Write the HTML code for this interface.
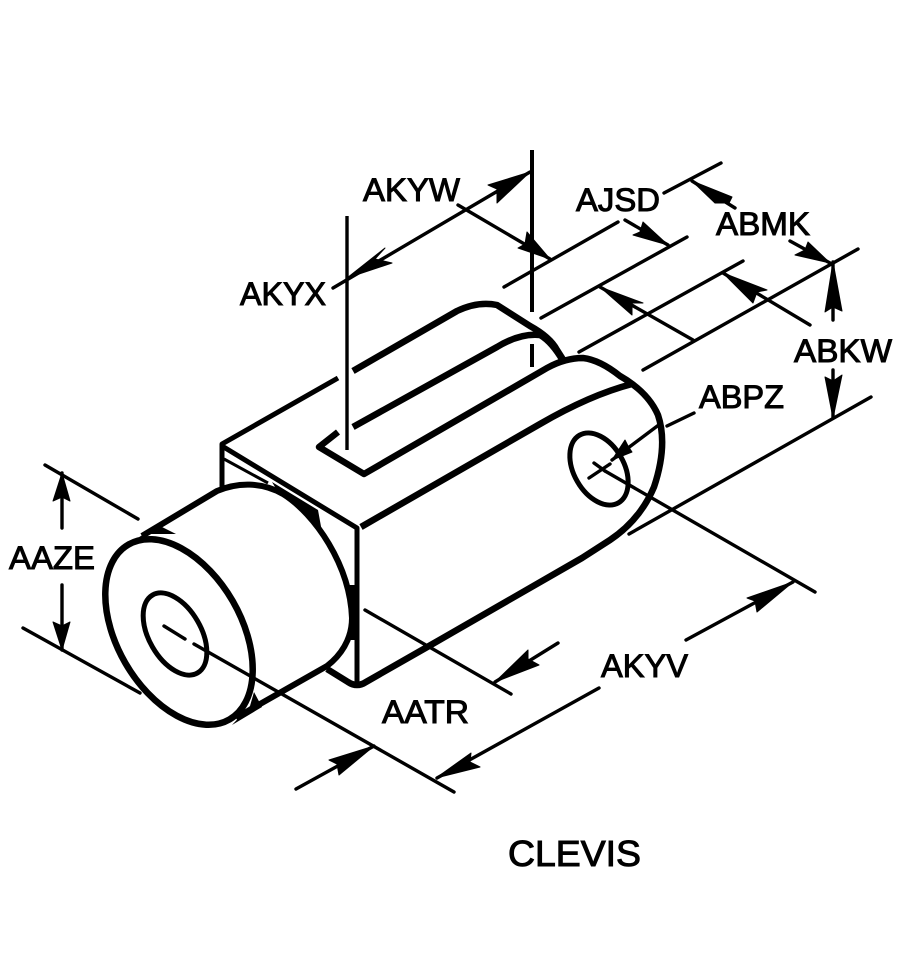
<!DOCTYPE html>
<html>
<head>
<meta charset="utf-8">
<title>Clevis</title>
<style>
html,body{margin:0;padding:0;background:#fff}
svg{display:block}
text{font-family:"Liberation Sans",sans-serif;font-size:32px;fill:#000;stroke:#000;stroke-width:1px}
</style>
</head>
<body>
<svg width="898" height="953" viewBox="0 0 898 953" xmlns="http://www.w3.org/2000/svg">
<rect width="898" height="953" fill="#fff"/>

<!-- Body outlines -->
<g fill="none" stroke="#000" stroke-linejoin="round" stroke-linecap="butt">
  <path stroke-width="5" d="M338 378 L222 444 L222 488"/>
  <path stroke-width="5" d="M222 446 L357 528 L357 686"/>
  <path stroke-width="3" d="M224 459 L268 483"/>
  <path stroke-width="6.5" d="M353 371 L457 311 Q478 301 497 305 L530 326 Q550 337 557 350 L564 361"/>
  <path stroke-width="6.5" d="M338 432 L319 447 L364 474 L547 368 Q565 358 583 358 Q600 360 620 376 Q648 392 658 415 Q668 445 654 487 Q640 520 610 540 L582 558 L429 646 L366 682 Q357 688 348 682 L327 669"/>
  <path stroke-width="6.5" d="M353 427 L497 347 Q520 333 540 335 Q552 342 563 361"/>
  <path stroke-width="6.5" d="M361 527 L540 424 Q590 395 632 384"/>
  <!-- Cylinder -->
  <ellipse cx="179" cy="632" rx="101" ry="62" transform="rotate(60 179 632)" stroke-width="6.5" fill="#fff"/>
  <path stroke-width="6" d="M142 536 L217 491 C238 482 262 482 283 494 C315 514 350 565 352 618 C352 640 340 656 327 666 L253 708 L236 718"/>
  <ellipse cx="175" cy="634" rx="45" ry="26" transform="rotate(60 175 634)" stroke-width="5"/>
  <ellipse cx="599" cy="469" rx="39" ry="25" transform="rotate(60 599 469)" stroke-width="5"/>
</g>
<polygon points="133,541 158,525 176,534 150,534" fill="#000"/>
<polygon points="232,725 262,707 254,692 250,706" fill="#000"/>
<polygon points="272,482 318,510 322,532 300,505 278,492" fill="#000"/>
<polygon points="349,585 357,585 357,640 350,640" fill="#000"/>

<!-- Thin dimension lines -->
<g fill="none" stroke="#000" stroke-width="3.4" stroke-linecap="round">
  <path d="M347 216 V450" stroke-linecap="butt"/>
  <path d="M532 150 V312 M532 344 V367" stroke-linecap="butt" stroke-width="4"/>
  <path d="M333 288 L530 172"/>
  <path d="M458 205 L550 259"/>
  <path d="M504 287 L618 222"/>
  <path d="M541 318 L687 237"/>
  <path d="M579 352 L743 261"/>
  <path d="M643 370 L858 249"/>
  <path d="M600 287 L693 340"/>
  <path d="M723 273 L810 325"/>
  <path d="M625 220 L668 245"/>
  <path d="M664 193 L721 163"/>
  <path d="M692 181 L735 208"/>
  <path d="M790 241 L830 263"/>
  <path d="M833 262 V320"/>
  <path d="M833 370 V418"/>
  <path d="M629 534 L871 397"/>
  <path d="M667 426 L694 413"/>
  <path d="M612 460 L660 424"/>
  <path d="M589 478 L610 464"/>
  <path d="M594 463 L605 471"/>
  <path d="M605 471 L815 592"/>
  <path d="M437 778 L599 688"/>
  <path d="M686 640 L793 582"/>
  <path d="M365 610 L511 694"/>
  <path d="M495 682 L558 643"/>
  <path d="M164 626 L185 639"/>
  <path d="M194 644 L454 792"/>
  <path d="M374 746 L296 789"/>
  <path d="M45 465 L138 519"/>
  <path d="M23 628 L140 693"/>
  <path d="M62 473 V528"/>
  <path d="M62 585 V650"/>
</g>

<!-- Arrowheads -->
<g fill="#000" stroke="#000" stroke-width="1" stroke-linejoin="round">
  <polygon points="347,278 385,248 375,259 392,263"/>
  <polygon points="530,172 488,185 497,189 497,203"/>
  <polygon points="550,259 518,248 525,244 527,232"/>
  <polygon points="668,245 633,235 640,232 643,222"/>
  <polygon points="600,287 643,303 632,303 632,315"/>
  <polygon points="723,273 767,290 757,292 753,303"/>
  <polygon points="692,181 732,197 729,203 715,203"/>
  <polygon points="830,263 808,242 805,250 795,255"/>
  <polygon points="833,262 825,312 833,307 842,311"/>
  <polygon points="833,418 825,377 833,381 842,375"/>
  <polygon points="612,460 625,440 628,446 632,452"/>
  <polygon points="436,778 471,753 470,762 480,767"/>
  <polygon points="793,582 747,598 755,601 757,612"/>
  <polygon points="495,682 528,650 528,659 539,665"/>
  <polygon points="374,746 329,760 337,764 339,775"/>
  <polygon points="62,473 53,501 62,497 70,501"/>
  <polygon points="62,650 53,622 62,626 70,622"/>
</g>

<!-- Labels -->
<text x="363" y="201" textLength="97" lengthAdjust="spacingAndGlyphs">AKYW</text>
<text x="576" y="211" textLength="84" lengthAdjust="spacingAndGlyphs">AJSD</text>
<text x="716" y="235" textLength="94" lengthAdjust="spacingAndGlyphs">ABMK</text>
<text x="240" y="305" textLength="86" lengthAdjust="spacingAndGlyphs">AKYX</text>
<text x="794" y="362" textLength="98" lengthAdjust="spacingAndGlyphs">ABKW</text>
<text x="699" y="408" textLength="85" lengthAdjust="spacingAndGlyphs">ABPZ</text>
<text x="9" y="569" textLength="86" lengthAdjust="spacingAndGlyphs">AAZE</text>
<text x="601" y="677" textLength="87" lengthAdjust="spacingAndGlyphs">AKYV</text>
<text x="382" y="723" textLength="87" lengthAdjust="spacingAndGlyphs">AATR</text>
<text x="508" y="866" textLength="133" lengthAdjust="spacingAndGlyphs" style="font-size:36px">CLEVIS</text>
</svg>
</body>
</html>
